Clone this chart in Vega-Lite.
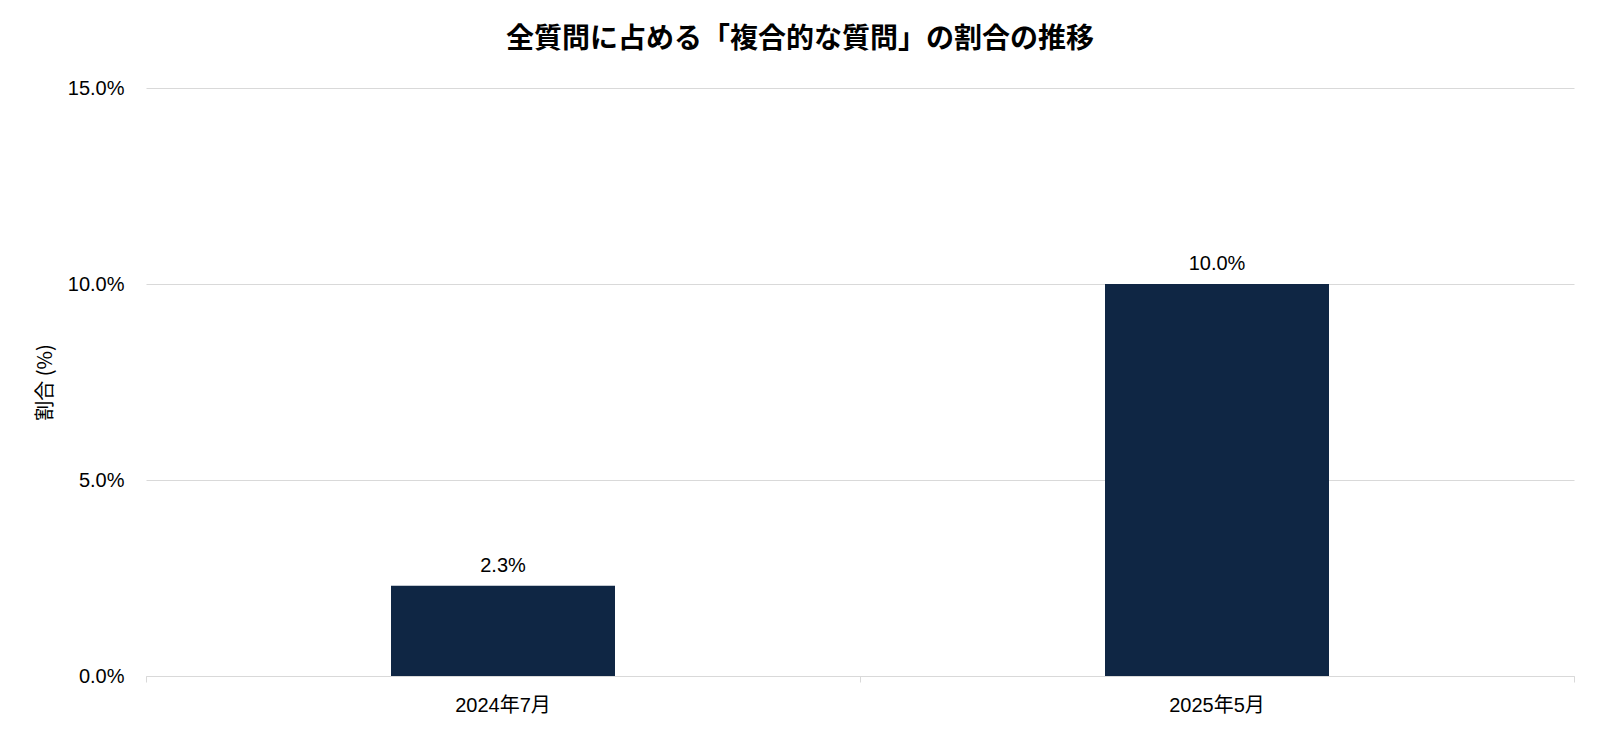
{
  "$schema": "https://vega.github.io/schema/vega-lite/v6.json",
  "autosize": {"type": "none"},
  "width": 1428,
  "height": 588,
  "padding": {"left": 146, "top": 88, "right": 26, "bottom": 67},
  "background": "#ffffff",
  "title": {
    "text": "全質問に占める「複合的な質問」の割合の推移",
    "font": "Noto Sans CJK JP",
    "fontSize": 28,
    "fontWeight": "bold",
    "color": "#000000",
    "anchor": "middle",
    "dx": -60,
    "dy": 36,
    "baseline": "bottom",
    "offset": 32
  },
  "data": {
    "values": [
      {"month": "2024年7月", "ratio": 0.023},
      {"month": "2025年5月", "ratio": 0.100}
    ]
  },
  "encoding": {
    "x": {
      "field": "month",
      "type": "nominal",
      "sort": null,
      "scale": {"paddingInner": 0, "paddingOuter": 0}
    },
    "y": {
      "field": "ratio",
      "type": "quantitative",
      "scale": {"domain": [0, 0.15], "nice": false},
      "axis": {
        "title": "割合 (%)",
        "values": [0, 0.05, 0.1, 0.15],
        "format": ".1%",
        "grid": true,
        "gridColor": "#d9d9d9",
        "gridWidth": 1,
        "domain": false,
        "ticks": false,
        "labelPadding": 22,
        "labelFont": "Liberation Sans, Noto Sans CJK JP",
        "labelFontSize": 20,
        "labelColor": "#000000",
        "titleFont": "Noto Sans CJK JP",
        "titleFontSize": 20,
        "titleFontWeight": "normal",
        "titleColor": "#000000",
        "titlePadding": 12
      }
    }
  },
  "layer": [
    {
      "mark": {"type": "bar", "size": 224, "color": "#0f2644"},
      "encoding": {
        "x": {
          "field": "month",
          "type": "nominal",
          "sort": null,
          "axis": {
            "title": null,
            "orient": "bottom",
            "labelAngle": 0,
            "ticks": false,
            "domain": true,
            "domainColor": "#d9d9d9",
            "domainWidth": 1,
            "grid": false,
            "labelPadding": 19,
            "labelFont": "Liberation Sans, Noto Sans CJK JP",
            "labelFontSize": 20,
            "labelColor": "#000000"
          }
        }
      }
    },
    {
      "mark": {
        "type": "text",
        "baseline": "alphabetic",
        "dy": -14,
        "font": "Liberation Sans, Noto Sans CJK JP",
        "fontSize": 20,
        "color": "#000000"
      },
      "encoding": {
        "x": {
          "field": "month",
          "type": "nominal",
          "sort": null,
          "axis": {
            "title": null,
            "orient": "bottom",
            "labels": false,
            "domain": false,
            "grid": false,
            "ticks": true,
            "bandPosition": 1,
            "tickExtra": true,
            "tickSize": 6,
            "tickColor": "#d9d9d9",
            "tickWidth": 1
          }
        },
        "text": {"field": "ratio", "type": "quantitative", "format": ".1%"}
      }
    }
  ],
  "resolve": {"axis": {"x": "independent"}},
  "config": {
    "view": {"stroke": null}
  }
}
